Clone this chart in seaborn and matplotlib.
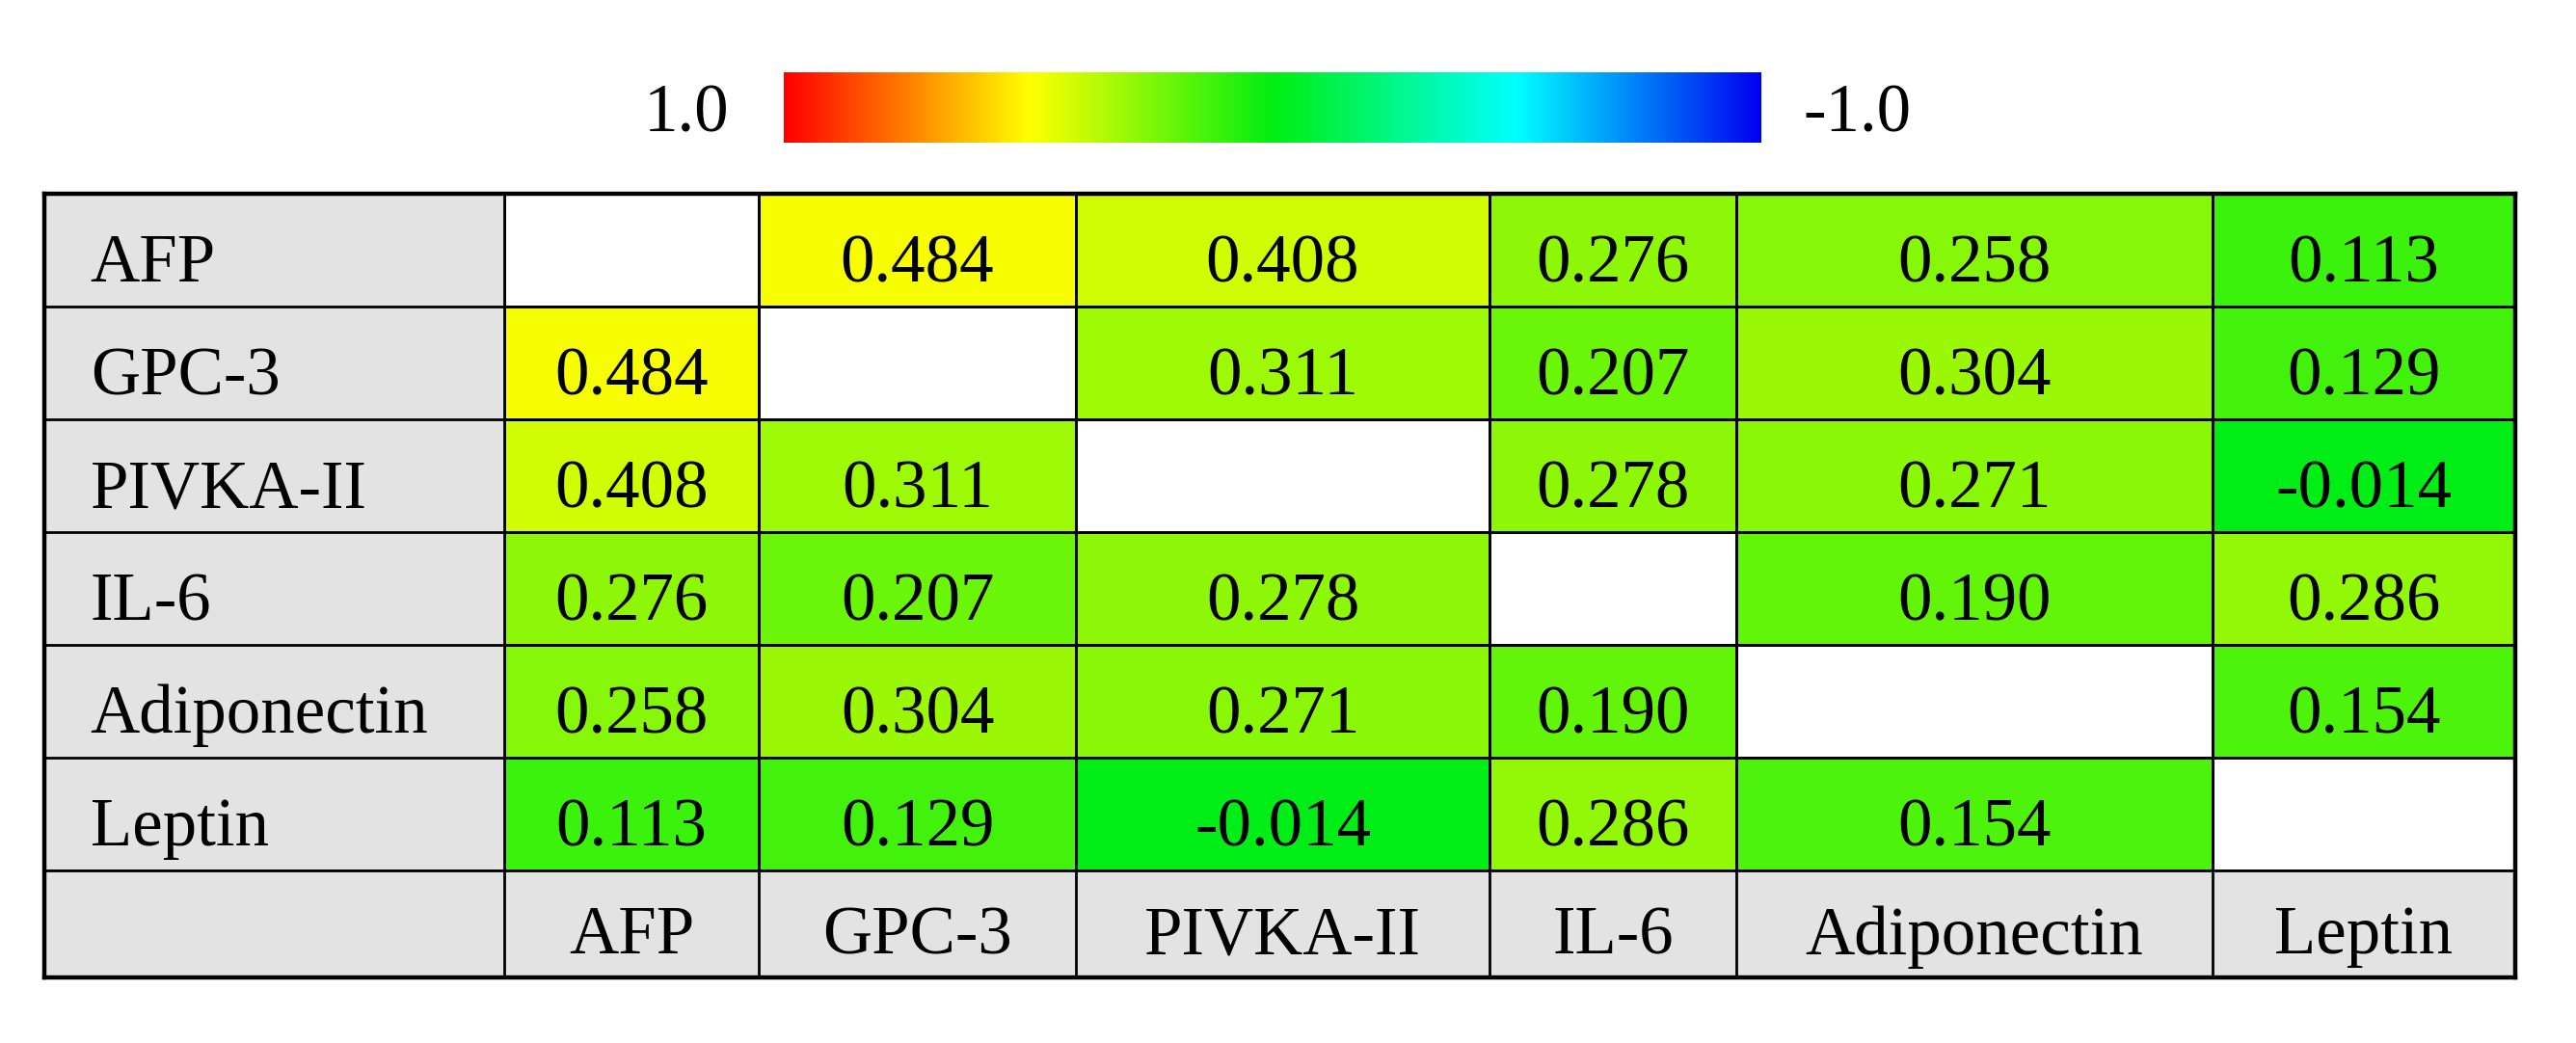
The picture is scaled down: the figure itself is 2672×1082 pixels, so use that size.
import numpy as np
import pandas as pd
import matplotlib
matplotlib.use("Agg")
import matplotlib.pyplot as plt
import seaborn as sns
from matplotlib.colors import LinearSegmentedColormap

# ---- data ----
markers = ["AFP", "GPC-3", "PIVKA-II", "IL-6", "Adiponectin", "Leptin"]
afp = [np.nan, 0.484, 0.408, 0.276, 0.258, 0.113]
gpc3 = [0.484, np.nan, 0.311, 0.207, 0.304, 0.129]
pivka = [0.408, 0.311, np.nan, 0.278, 0.271, -0.014]
il6 = [0.276, 0.207, 0.278, np.nan, 0.190, 0.286]
adipo = [0.258, 0.304, 0.271, 0.190, np.nan, 0.154]
leptin = [0.113, 0.129, -0.014, 0.286, 0.154, np.nan]
cbar_labels = ["1.0", "-1.0"]

df = pd.DataFrame([afp, gpc3, pivka, il6, adipo, leptin], index=markers, columns=markers)

# ---- style ----
sns.set_theme(style="white")
plt.rcParams["font.family"] = ["Liberation Serif", "DejaVu Serif"]
plt.rcParams["text.color"] = "black"
FS = 51
GRAY = "#E3E3E3"
DY = 0.13  # downward text shift in row units

cmap = LinearSegmentedColormap.from_list(
    "rygcb",
    [(0.0, "#0000F0"), (0.25, "#00FFFF"), (0.5, "#00EE10"), (0.75, "#FFFF00"), (1.0, "#FF0000")],
)

W, H = 2672, 1082
fig = plt.figure(figsize=(W / 100, H / 100), dpi=100)


def fax(x0, y0, x1, y1, **kw):
    return fig.add_axes([x0 / W, 1 - y1 / H, (x1 - x0) / W, (y1 - y0) / H], **kw)


col_edges = [523, 787, 1116, 1545, 1801, 2295, 2609]
top, data_bottom, bottom, left = 201, 903, 1014, 46
LW = 2.0

# colorbar axes
cax = fax(813, 75, 1827, 148)

# data columns, each a seaborn heatmap
for j in range(len(markers)):
    ax = fax(col_edges[j], top, col_edges[j + 1], data_bottom)
    ax.set_facecolor("white")
    sub = df.iloc[:, [j]]
    sns.heatmap(
        sub, ax=ax, cmap=cmap, vmin=-1, vmax=1,
        mask=sub.isna(), annot=True, fmt=".3f",
        annot_kws={"fontsize": FS, "color": "black"},
        linewidths=LW, linecolor="black",
        cbar=(j == 0), cbar_ax=cax if j == 0 else None,
        cbar_kws={"orientation": "horizontal"} if j == 0 else None,
        xticklabels=False, yticklabels=False,
    )
    for t in ax.texts:
        x, y = t.get_position()
        t.set_position((x, y + DY))
    ax.set_xlabel("")
    ax.set_ylabel("")
    for s in ax.spines.values():
        s.set_visible(True)
        s.set_color("black")
        s.set_linewidth(LW)

# colorbar styling (1.0 on the left)
cax.invert_xaxis()
cax.set_xticks([])
cax.set_yticks([])
for s in cax.spines.values():
    s.set_visible(False)
fig.text(712 / W, 1 - 119 / H, cbar_labels[0], ha="center", va="center", fontsize=FS, color="black")
fig.text(1926 / W, 1 - 119 / H, cbar_labels[1], ha="center", va="center", fontsize=FS, color="black")

# row label column
rax = fax(left, top, col_edges[0], data_bottom)
rax.set_facecolor(GRAY)
rax.set_xlim(0, 1)
rax.set_ylim(len(markers), 0)
for i, name in enumerate(markers):
    rax.text(0.1, i + 0.5 + DY, name, ha="left", va="center", fontsize=FS, color="black")
    if i > 0:
        rax.axhline(i, color="black", lw=LW)
rax.set_xticks([])
rax.set_yticks([])
for s in rax.spines.values():
    s.set_color("black")
    s.set_linewidth(LW)

# bottom label row
bax = fax(left, data_bottom, col_edges[-1], bottom)
bax.set_facecolor(GRAY)
bax.set_xlim(left, col_edges[-1])
bax.set_ylim(0, 1)
for j, name in enumerate(markers):
    bax.axvline(col_edges[j], color="black", lw=LW)
    bax.text((col_edges[j] + col_edges[j + 1]) / 2, 0.38, name, ha="center", va="center",
             fontsize=FS, color="black")
bax.set_xticks([])
bax.set_yticks([])
for s in bax.spines.values():
    s.set_color("black")
    s.set_linewidth(LW)

# outer frame
oax = fax(left, top, col_edges[-1], bottom)
oax.patch.set_alpha(0)
oax.set_xticks([])
oax.set_yticks([])
for s in oax.spines.values():
    s.set_color("black")
    s.set_linewidth(3.2)

fig.savefig("out.png", dpi=100, facecolor="white")
